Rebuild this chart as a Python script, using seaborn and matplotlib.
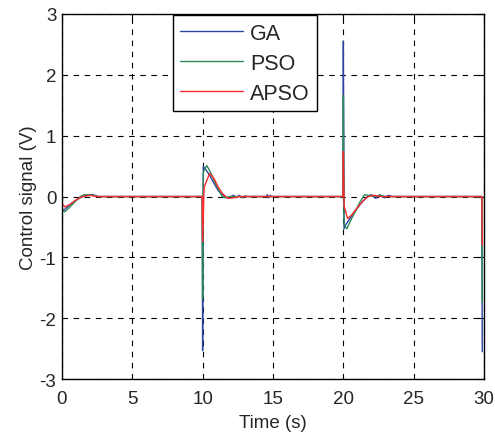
import pandas as pd
import matplotlib
matplotlib.use('Agg')
import matplotlib.pyplot as plt
import seaborn as sns

# Control signal traces (time in s, signal in V)
ga_t = [0.0, 0.03, 0.1, 0.3, 0.6, 1.0, 1.4, 1.7, 2.2, 2.6,
        9.97, 10.0, 10.05, 10.2, 10.5, 10.8, 11.1, 11.4, 11.7, 12.0,
        12.2, 12.4, 12.6, 12.8, 13.0, 13.2, 14.5, 14.6, 14.7, 14.8, 14.9,
        19.97, 20.0, 20.05, 20.2, 20.5, 20.9, 21.3, 21.7, 22.0, 22.3,
        22.6, 22.9, 23.2, 23.5, 29.84, 29.87]
ga_v = [1.25, -0.20, -0.23, -0.19, -0.13, -0.06, -0.01, 0.02, 0.03, 0.0,
        0.0, -2.53, 0.49, 0.45, 0.35, 0.22, 0.10, 0.03, -0.02, 0.0,
        0.02, -0.02, 0.02, -0.02, 0.01, 0.0, 0.0, 0.03, -0.02, 0.02, 0.0,
        0.0, 2.55, -0.53, -0.45, -0.35, -0.22, -0.10, 0.0, 0.03, -0.03,
        0.03, -0.02, 0.02, 0.0, 0.0, -2.55]

pso_t = [0.0, 0.03, 0.2, 0.4, 0.7, 1.0, 1.3, 1.6, 2.0, 2.5,
         9.97, 10.0, 10.05, 10.3, 10.6, 10.9, 11.2, 11.4, 11.6, 12.0,
         19.97, 20.0, 20.05, 20.25, 20.5, 20.9, 21.2, 21.5, 21.8, 22.2,
         22.6, 23.0, 29.84, 29.87]
pso_v = [0.84, -0.22, -0.25, -0.21, -0.14, -0.07, 0.0, 0.03, 0.03, 0.0,
         0.0, -1.68, 0.40, 0.51, 0.38, 0.22, 0.08, 0.0, -0.02, 0.0,
         0.0, 1.66, -0.45, -0.53, -0.40, -0.22, -0.08, 0.03, 0.02, 0.0,
         0.02, 0.0, 0.0, -1.73]

apso_t = [0.0, 0.03, 0.2, 0.5, 0.8, 1.1, 1.5, 2.0, 2.5,
          9.97, 10.0, 10.1, 10.5, 10.8, 11.1, 11.4, 11.8, 12.2, 12.6,
          19.97, 20.0, 20.05, 20.3, 20.6, 21.0, 21.4, 21.75, 22.2, 22.6,
          23.0, 29.84, 29.87]
apso_v = [0.46, -0.12, -0.17, -0.14, -0.09, -0.04, 0.0, 0.02, 0.0,
          0.0, -0.74, 0.15, 0.38, 0.30, 0.16, 0.05, -0.03, -0.02, 0.0,
          0.0, 0.74, -0.15, -0.36, -0.30, -0.18, -0.07, 0.0, 0.02, 0.0,
          0.0, 0.0, -0.80]

methods = ['GA', 'PSO', 'APSO']
colors = ['#2d45a0', '#2a8a58', '#ff2a2a']

df = pd.concat([
    pd.DataFrame({'Time': ga_t, 'Signal': ga_v, 'method': 'GA'}),
    pd.DataFrame({'Time': pso_t, 'Signal': pso_v, 'method': 'PSO'}),
    pd.DataFrame({'Time': apso_t, 'Signal': apso_v, 'method': 'APSO'}),
], ignore_index=True)

sns.set_style('white')
plt.rcParams['font.family'] = ['Liberation Sans', 'DejaVu Sans']
plt.rcParams['axes.unicode_minus'] = False
plt.rcParams['xtick.direction'] = 'in'
plt.rcParams['ytick.direction'] = 'in'

text_size = 13.5

fig, ax = plt.subplots(figsize=(4.95, 4.39), dpi=100)
fig.subplots_adjust(left=0.125, right=0.978, top=0.966, bottom=0.134)

sns.lineplot(data=df, x='Time', y='Signal', hue='method', hue_order=methods,
             palette=colors, estimator=None, sort=False, linewidth=1.0, ax=ax)

ax.set_xlim(0, 30)
ax.set_ylim(-3, 3)
ax.set_xticks(range(0, 31, 5))
ax.set_yticks(range(-3, 4))
ax.grid(True, color='black', linestyle=(0, (5, 5)), linewidth=0.8)
ax.set_axisbelow(True)
for s in ax.spines.values():
    s.set_color('black')
    s.set_linewidth(1.0)
ax.tick_params(labelsize=text_size, length=4, color='black', top=True, right=True)
ax.tick_params(axis='x', pad=8)
ax.tick_params(axis='y', pad=4)
ax.set_xlabel('Time (s)', fontsize=text_size, labelpad=5)
ax.set_ylabel('Control signal (V)', fontsize=text_size, labelpad=2)

handles, labels = ax.get_legend_handles_labels()
leg = ax.legend(handles, labels, loc='upper left', bbox_to_anchor=(0.26, 1.0),
                fontsize=15.5, handlelength=2.9, handletextpad=0.35,
                fancybox=False, framealpha=1, edgecolor='black',
                borderpad=0.35, borderaxespad=0.05, labelspacing=0.42)
leg.get_frame().set_linewidth(1.0)

fig.savefig('out.png', dpi=100)
